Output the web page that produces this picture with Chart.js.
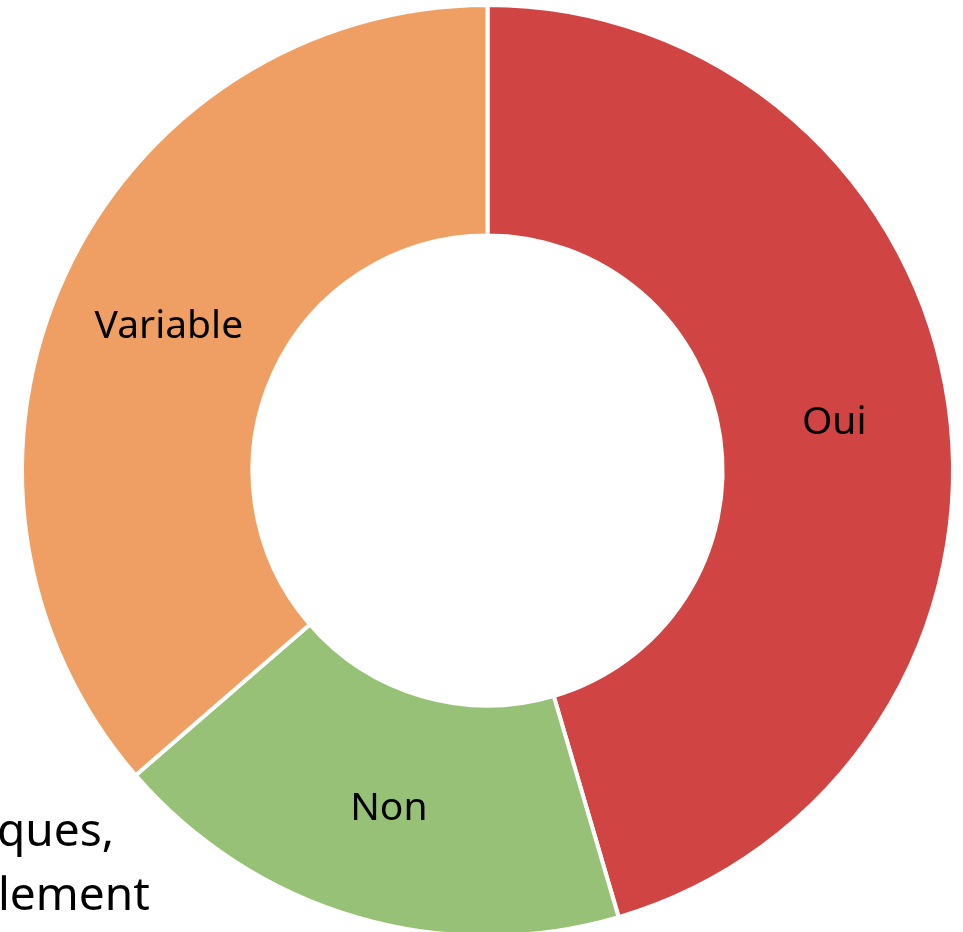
<!DOCTYPE html>
<html>
<head>
<meta charset="utf-8">
<script src="https://cdn.jsdelivr.net/npm/chart.js@4/dist/chart.umd.min.js"></script>
<style>
  html, body { margin: 0; padding: 0; background: #fff; overflow: hidden; }
  #wrap { position: relative; width: 963px; height: 938px; }
</style>
</head>
<body>
<div id="wrap"><canvas id="chart"></canvas></div>
<script>
// data
const categories = ["Oui", "Non", "Variable"];
const counts = [25, 10, 20];
const sliceColors = ["#D14444", "#96C176", "#F09F64"];
// cut-off text at the bottom left edge
const sideText = ["ques,", "lement"];

const FONT = "'Noto Sans', Tahoma, sans-serif";

// labels drawn in the middle of each slice
const sliceLabels = {
    id: "sliceLabels",
    afterDatasetsDraw(chart){
        const ctx = chart.ctx;
        const meta = chart.getDatasetMeta(0);
        ctx.save();
        ctx.fillStyle = "#000";
        ctx.font = "39px " + FONT;
        ctx.textAlign = "center";
        ctx.textBaseline = "middle";
        meta.data.forEach((arc, i) => {
            const p = arc.tooltipPosition();
            ctx.fillText(categories[i], p.x, p.y + 2);
        });
        ctx.restore();
    }
};

const sideTextPlugin = {
    id: "sideText",
    afterDraw(chart){
        const ctx = chart.ctx;
        ctx.save();
        ctx.fillStyle = "#000";
        ctx.font = "46px " + FONT;
        ctx.textAlign = "left";
        ctx.textBaseline = "alphabetic";
        ctx.fillText(sideText[0], -3, 846);
        ctx.fillText(sideText[1], -2, 910);
        ctx.restore();
    }
};

new Chart(document.getElementById("chart"), {
    type: "doughnut",
    data: {
        labels: categories,
        datasets: [{
            data: counts,
            backgroundColor: sliceColors,
            borderColor: "#fff",
            borderWidth: 4,
        }],
    },
    options: {
        responsive: true,
        maintainAspectRatio: false,
        animation: false,
        cutout: "50.5%",
        layout: { padding: { top: 3, left: 12, right: 0, bottom: 0 } },
        plugins: {
            legend: { display: false },
            tooltip: { enabled: false },
        },
    },
    plugins: [sliceLabels, sideTextPlugin],
});
</script>
</body>
</html>
